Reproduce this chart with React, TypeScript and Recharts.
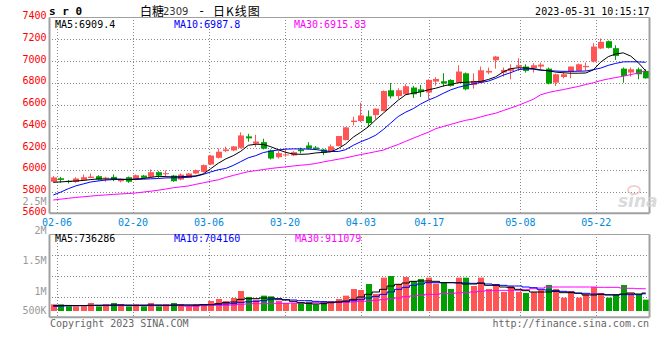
import React from 'react';
import { ComposedChart, Bar, Line, XAxis, YAxis, ReferenceLine } from 'recharts';

// 80 trading days, 02-03 .. 05-31
const DATES = [
  '02-03', '02-06', '02-07', '02-08', '02-09', '02-10', '02-13', '02-14', '02-15', '02-16', '02-17',
  '02-20', '02-21', '02-22', '02-23', '02-24', '02-27', '02-28', '03-01', '03-02', '03-03',
  '03-06', '03-07', '03-08', '03-09', '03-10', '03-13', '03-14', '03-15', '03-16', '03-17',
  '03-20', '03-21', '03-22', '03-23', '03-24', '03-27', '03-28', '03-29', '03-30', '03-31',
  '04-03', '04-04', '04-06', '04-07', '04-10', '04-11', '04-12', '04-13', '04-14',
  '04-17', '04-18', '04-19', '04-20', '04-21', '04-24', '04-25', '04-26', '04-27', '04-28',
  '05-04', '05-05', '05-08', '05-09', '05-10', '05-11', '05-12', '05-15', '05-16', '05-17', '05-18', '05-19',
  '05-22', '05-23', '05-24', '05-25', '05-26', '05-29', '05-30', '05-31',
];

const OPEN = [
  5890, 5922, 5898, 5888, 5907, 5925, 5941, 5922, 5935, 5895,
  5932, 5910, 5947, 5935, 5978, 5960, 5947, 5910, 5926, 5966,
  5981, 6049, 6110, 6172, 6178, 6202, 6307, 6240, 6254, 6178,
  6116, 6132, 6132, 6187, 6224, 6205, 6187, 6171, 6218, 6273,
  6439, 6448, 6491, 6503, 6540, 6731, 6678, 6694, 6756, 6740,
  6710, 6811, 6814, 6826, 6801, 6887, 6780, 6801, 6894, 7007,
  6894, 6909, 6946, 6949, 6934, 6949, 6930, 6801, 6853, 6900,
  6909, 6943, 6995, 7115, 7182, 7118, 6930, 6894, 6924, 6909,
];
const HIGH = [
  5942, 5935, 5907, 5932, 5957, 5966, 5950, 5935, 5957, 5920,
  5938, 5957, 5953, 6003, 5987, 5994, 5953, 5966, 5969, 6003,
  6049, 6135, 6196, 6212, 6218, 6344, 6331, 6322, 6286, 6187,
  6171, 6199, 6171, 6203, 6254, 6218, 6193, 6233, 6312, 6392,
  6488, 6617, 6546, 6565, 6730, 6798, 6749, 6786, 6771, 6780,
  6832, 6851, 6888, 6832, 6961, 6894, 6887, 6949, 6940, 7047,
  6940, 6970, 7026, 6970, 6980, 6986, 6940, 6884, 6909, 6949,
  6976, 6986, 7164, 7207, 7188, 7145, 6940, 6940, 6940, 6924,
];
const LOW = [
  5885, 5880, 5875, 5880, 5900, 5922, 5900, 5890, 5895, 5885,
  5880, 5904, 5920, 5929, 5926, 5932, 5889, 5904, 5923, 5960,
  5975, 6043, 6104, 6162, 6172, 6196, 6258, 6210, 6187, 6095,
  6104, 6120, 6125, 6150, 6187, 6181, 6135, 6166, 6215, 6270,
  6408, 6439, 6393, 6464, 6537, 6657, 6651, 6688, 6660, 6669,
  6648, 6774, 6765, 6765, 6795, 6731, 6746, 6795, 6878, 6930,
  6857, 6832, 6909, 6894, 6894, 6924, 6786, 6771, 6841, 6841,
  6903, 6909, 6986, 7109, 7115, 7010, 6801, 6857, 6832, 6838,
];
const CLOSE = [
  5930, 5907, 5888, 5920, 5932, 5937, 5910, 5928, 5910, 5913,
  5890, 5950, 5926, 5978, 5947, 5969, 5895, 5956, 5966, 5996,
  6043, 6131, 6166, 6187, 6215, 6316, 6289, 6260, 6194, 6104,
  6153, 6141, 6162, 6171, 6194, 6190, 6157, 6215, 6310, 6390,
  6452, 6500, 6429, 6562, 6724, 6675, 6731, 6768, 6694, 6715,
  6826, 6835, 6793, 6771, 6903, 6740, 6817, 6915, 6909, 7041,
  6918, 6934, 6961, 6909, 6961, 6967, 6792, 6878, 6878, 6949,
  6970, 6955, 7133, 7176, 7121, 7047, 6863, 6924, 6878, 6841,
];

const MA5 = [
  5885, 5889, 5893, 5897, 5902, 5910, 5916, 5915, 5916, 5914,
  5911, 5915, 5920, 5930, 5940, 5937, 5935, 5936, 5940, 5944,
  5962, 6010, 6060, 6100, 6130, 6170, 6225, 6235, 6233, 6212,
  6185, 6160, 6145, 6142, 6145, 6155, 6160, 6165, 6195, 6238,
  6300, 6345, 6395, 6460, 6520, 6580, 6640, 6690, 6705, 6716,
  6735, 6750, 6770, 6785, 6800, 6805, 6808, 6812, 6830, 6855,
  6900, 6930, 6938, 6936, 6930, 6918, 6910, 6898, 6892, 6888,
  6888, 6890, 6918, 6990, 7040, 7065, 7075, 7045, 6985, 6909,
];
const MA10 = [
  5768, 5795, 5826, 5852, 5870, 5888, 5897, 5906, 5910, 5911,
  5911, 5911, 5914, 5917, 5920, 5925, 5926, 5927, 5932, 5940,
  5958, 5980, 6000, 6012, 6040, 6075, 6110, 6130, 6158, 6172,
  6182, 6190, 6192, 6192, 6190, 6186, 6176, 6168, 6168, 6185,
  6225, 6258, 6285, 6318, 6370, 6430, 6490, 6530, 6562, 6605,
  6640, 6668, 6703, 6735, 6758, 6775, 6790, 6803, 6815, 6840,
  6870, 6893, 6920, 6928, 6925, 6915, 6912, 6908, 6905, 6905,
  6906, 6908, 6920, 6935, 6960, 6978, 6992, 6993, 6992, 6988,
];
const MA30 = [
  5722, 5730, 5738, 5746, 5752, 5758, 5764, 5769, 5774, 5778,
  5782, 5787, 5795, 5803, 5812, 5823, 5835, 5843, 5851, 5866,
  5880, 5895, 5908, 5930, 5948, 5966, 5983, 5992, 6002, 6012,
  6020, 6027, 6035, 6042, 6048, 6058, 6072, 6085, 6097, 6110,
  6125, 6140, 6153, 6167, 6181, 6208, 6233, 6262, 6290, 6318,
  6345, 6378, 6398, 6417, 6437, 6455, 6467, 6486, 6505, 6520,
  6545, 6568, 6592, 6620, 6648, 6690, 6710, 6725, 6737, 6752,
  6766, 6784, 6800, 6820, 6835, 6848, 6860, 6875, 6890, 6912,
];

const VOL = [
  273100, 268400, 191200, 188700, 193500, 328900, 190400, 271800, 326500, 276200,
  189300, 272400, 192800, 330100, 190600, 274700, 327300, 270900, 193900, 275300,
  271100, 410600, 492300, 408900, 533400, 820700, 574200, 465300, 629100, 601500,
  410200, 328400, 327600, 329800, 383100, 273900, 396400, 410800, 492500, 629600,
  902300, 861400, 1107200, 697500, 1367100, 1435300, 1107900, 1394200, 1230600, 1312400,
  1367800, 1121300, 1148700, 902100, 1367400, 1366200, 1025300, 1367900, 902600, 1107400,
  779300, 1025800, 779900, 738200, 779100, 861700, 1066400, 902900, 547200, 820300,
  547800, 697100, 984600, 738500, 547300, 656400, 1066100, 738900, 656200, 465700,
];
const VMA5 = [
  225000, 230000, 228000, 222000, 218000, 230000, 235000, 240000, 245000, 250000,
  240000, 232000, 238000, 245000, 242000, 236000, 240000, 250000, 246000, 240000,
  262000, 260000, 300000, 342000, 369000, 478000, 506000, 506000, 533000, 533000,
  506000, 451000, 396000, 342000, 315000, 287000, 300000, 342000, 369000, 410000,
  478000, 574000, 683000, 779000, 888000, 1025000, 1093000, 1148000, 1216000, 1230000,
  1230000, 1216000, 1162000, 1162000, 1148000, 1107000, 1107000, 1148000, 1052000, 1052000,
  984000, 957000, 888000, 834000, 779000, 779000, 779000, 806000, 752000, 752000,
  724000, 656000, 656000, 683000, 656000, 656000, 697000, 738000, 697000, 736286,
];
const VMA10 = [
  191000, 200000, 210000, 218000, 225000, 230000, 232000, 232000, 234000, 236000,
  236000, 238000, 236000, 238000, 240000, 238000, 240000, 242000, 240000, 245000,
  250000, 260000, 273000, 287000, 300000, 355000, 375000, 396000, 424000, 465000,
  465000, 465000, 451000, 424000, 424000, 396000, 383000, 369000, 369000, 383000,
  424000, 465000, 533000, 601000, 683000, 779000, 888000, 970000, 1052000, 1107000,
  1162000, 1162000, 1162000, 1162000, 1162000, 1148000, 1134000, 1134000, 1107000, 1080000,
  1052000, 1025000, 1025000, 984000, 957000, 888000, 861000, 834000, 806000, 779000,
  738000, 724000, 697000, 697000, 670000, 670000, 670000, 670000, 670000, 704160,
];
const VMA30 = [
  230000, 228000, 226000, 225000, 224000, 222000, 222000, 220000, 220000, 220000,
  220000, 218000, 218000, 218000, 218000, 219000, 220000, 220000, 195000, 195000,
  220000, 232000, 232000, 232000, 246000, 273000, 287000, 300000, 300000, 300000,
  315000, 315000, 328000, 328000, 328000, 342000, 342000, 342000, 355000, 355000,
  369000, 396000, 396000, 437000, 465000, 506000, 533000, 588000, 615000, 642000,
  683000, 683000, 711000, 711000, 738000, 752000, 779000, 806000, 834000, 834000,
  847000, 847000, 847000, 875000, 915000, 943000, 984000, 984000, 984000, 984000,
  984000, 984000, 984000, 970000, 970000, 970000, 943000, 930000, 915000, 911079,
];

const PRICE_TICKS = [5600, 5800, 6000, 6200, 6400, 6600, 6800, 7000, 7200, 7400];
const DATE_TICKS = ['02-06', '02-20', '03-06', '03-20', '04-03', '04-17', '05-08', '05-22'];
const VOL_LABELS = ['2.5M', '2M', '1.5M', '1M', '500K'];
const VOL_DOMAIN = [-258000, 3136000];

const rows = DATES.map((d, i) => ({
  i, d,
  o: OPEN[i], h: HIGH[i], l: LOW[i], c: CLOSE[i],
  ma5: MA5[i], ma10: MA10[i], ma30: MA30[i],
  v: VOL[i], vma5: VMA5[i], vma10: VMA10[i], vma30: VMA30[i],
}));
const GRID_IDX = DATE_TICKS.map((t) => DATES.indexOf(t));
const LAST = DATES.length - 1;

// plot frames (shared by the charts' margins and the dotted grid)
const PLOT_L = 49.5;
const PLOT_W = 600;
const MAIN_T = 17.5;
const MAIN_B = 213.3;
const VOL_T = 234.5;
const VOL_B = 317.3;

const MONO = '"DejaVu Sans Mono", monospace';
const RED = '#ff5555';
const GREEN = '#00a000';
const BORDER = '#a0a0a0';
const DOT = '#888';

function Candle(props: any) {
  const { x, y, width, height, payload } = props;
  const { o, h, l, c } = payload;
  const color = c >= o ? RED : GREEN;
  const top = Math.min(y, y + height);
  const hh = Math.abs(height);
  const k = hh / (h - l || 1);
  const left = Math.round(x + width / 2 - 3);
  const bTop = top + (h - Math.max(o, c)) * k;
  const bBot = top + (h - Math.min(o, c)) * k;
  return (
    <g>
      <line x1={left + 2.5} x2={left + 2.5} y1={top} y2={top + hh} stroke={color} strokeWidth={1} />
      <rect x={left} y={bTop} width={6} height={Math.max(1, bBot - bTop)} fill={color} />
    </g>
  );
}

function VolBar(props: any) {
  const { x, y, width, height, payload } = props;
  const left = Math.round(x + width / 2 - 3);
  return <rect x={left} y={y} width={6} height={Math.max(0, height)} fill={payload.c >= payload.o ? RED : GREEN} />;
}

const PriceTick = (p: any) => (
  <text x={p.x} y={p.y + 1.5} textAnchor="end" fill="#f00" fontSize={10} fontFamily={MONO}>
    {p.payload.value}
  </text>
);

const DateTick = (p: any) => (
  <text x={p.x} y={225.5} textAnchor="middle" fill="#0088dd" fontSize={10} fontFamily={MONO}>
    {DATES[p.payload.value]}
  </text>
);

// dotted grid made of single-pixel dots, one every 3px
function DottedGrid() {
  const vx = GRID_IDX.map((i) => Math.round(PLOT_L + (PLOT_W * i) / LAST));
  const mainY = PRICE_TICKS.slice(1, -1).map((v) =>
    Math.round(MAIN_T + ((7400 - v) / 1800) * (MAIN_B - MAIN_T)));
  const volY = [1, 2, 3].map((k) => Math.round(VOL_T + ((VOL_B - VOL_T) * k) / 4));
  const dots: React.ReactNode[] = [];
  const vRun = (x: number, y0: number, y1: number) => {
    for (let y = Math.round(y0) + 2; y < y1 - 1; y += 3) dots.push(<rect key={`v${x}-${y}`} x={x} y={y} width={1} height={1} />);
  };
  vx.forEach((x) => { vRun(x, MAIN_T, MAIN_B); vRun(x, VOL_T, VOL_B); });
  [...mainY, ...volY].forEach((y) => {
    for (let x = Math.round(PLOT_L) + 2; x < PLOT_L + PLOT_W - 1; x += 3) dots.push(<rect key={`h${x}-${y}`} x={x} y={y} width={1} height={1} />);
  });
  return (
    <svg width={660} height={360} style={{ position: 'absolute', top: 0, left: 0, pointerEvents: 'none' }}>
      <g fill={DOT} shapeRendering="crispEdges">{dots}</g>
    </svg>
  );
}

export default function App() {
  const abs: React.CSSProperties = { position: 'absolute', top: 0, left: 0 };
  return (
    <div style={{ position: 'relative', width: 660, height: 360, background: '#fff', overflow: 'hidden' }}>
      <style>{'body{margin:0}'}</style>

      <DottedGrid />

      <div style={abs}>
        <ComposedChart width={660} height={240} data={rows} margin={{ top: MAIN_T, right: 660 - PLOT_L - PLOT_W, bottom: 0, left: 0 }}>
          <XAxis xAxisId="c" dataKey="d" hide />
          <XAxis
            xAxisId="g" dataKey="i" type="number" domain={[0, LAST]} ticks={GRID_IDX} interval={0}
            height={240 - MAIN_B} tickSize={0} tickMargin={0} tickLine={false} axisLine={false}
            tick={<DateTick />} allowDataOverflow
          />
          <YAxis
            domain={[5600, 7400]} ticks={PRICE_TICKS} interval={0} width={PLOT_L}
            tickSize={0} tickMargin={3} tickLine={false} axisLine={false}
            tick={<PriceTick />} allowDataOverflow
          />
          <ReferenceLine xAxisId="g" y={7400} stroke={BORDER} strokeWidth={1} />
          <ReferenceLine xAxisId="g" y={5600} stroke={BORDER} strokeWidth={2} />
          <ReferenceLine xAxisId="g" x={0} stroke={BORDER} strokeWidth={2} />
          <ReferenceLine xAxisId="g" x={LAST} stroke={BORDER} strokeWidth={2} />
          <Bar xAxisId="c" dataKey={(r: any) => [r.l, r.h]} barSize={6} shape={(p: any) => <Candle {...p} />} isAnimationActive={false} />
          <Line xAxisId="c" dataKey="ma30" stroke="#ff00ff" strokeWidth={1} dot={false} activeDot={false} isAnimationActive={false} />
          <Line xAxisId="c" dataKey="ma10" stroke="#0000ff" strokeWidth={1} dot={false} activeDot={false} isAnimationActive={false} />
          <Line xAxisId="c" dataKey="ma5" stroke="#000" strokeWidth={1} dot={false} activeDot={false} isAnimationActive={false} />
        </ComposedChart>
      </div>

      <div style={abs}>
        <ComposedChart width={660} height={360} data={rows} margin={{ top: VOL_T, right: 660 - PLOT_L - PLOT_W, bottom: 360 - VOL_B, left: PLOT_L }}>
          <XAxis xAxisId="c" dataKey="d" hide />
          <XAxis xAxisId="g" dataKey="i" type="number" domain={[0, LAST]} hide allowDataOverflow />
          <YAxis domain={VOL_DOMAIN} hide allowDataOverflow />
          <ReferenceLine xAxisId="g" y={VOL_DOMAIN[1]} stroke={BORDER} strokeWidth={1} />
          <ReferenceLine xAxisId="g" y={VOL_DOMAIN[0]} stroke={BORDER} strokeWidth={2} />
          <ReferenceLine xAxisId="g" x={0} stroke={BORDER} strokeWidth={2} />
          <ReferenceLine xAxisId="g" x={LAST} stroke={BORDER} strokeWidth={2} />
          <Bar xAxisId="c" dataKey="v" barSize={6} shape={(p: any) => <VolBar {...p} />} isAnimationActive={false} />
          <Line xAxisId="c" type="step" dataKey="vma30" stroke="#ff00ff" strokeWidth={1} dot={false} activeDot={false} isAnimationActive={false} />
          <Line xAxisId="c" type="step" dataKey="vma10" stroke="#0000ff" strokeWidth={1} dot={false} activeDot={false} isAnimationActive={false} />
          <Line xAxisId="c" type="step" dataKey="vma5" stroke="#000" strokeWidth={1} dot={false} activeDot={false} isAnimationActive={false} />
        </ComposedChart>
      </div>

      <svg width={660} height={360} style={{ ...abs, pointerEvents: 'none' }}>
        <g fontFamily={MONO} fontSize={10}>
          <text x={49} y={15} fontSize={11} fontWeight="bold">s r 0</text>
          <text x={140} y={15.5} fontSize={12} fontFamily='"Noto Sans CJK SC", sans-serif'>白糖</text>
          <text x={163} y={15} fontSize={10} fontFamily='"DejaVu Sans", sans-serif' fill="#333">2309</text>
          <text x={198} y={15} fontSize={12}>-</text>
          <text x={213} y={15.5} fontSize={12} letterSpacing={1} fontFamily='"Noto Sans CJK SC", sans-serif'>日K线图</text>
          <text x={649.5} y={15} textAnchor="end">2023-05-31 10:15:17</text>

          <text x={55} y={27.5} fill="#000">MA5:6909.4</text>
          <text x={174} y={27.5} fill="#0000ff">MA10:6987.8</text>
          <text x={294} y={27.5} fill="#ff00ff">MA30:6915.83</text>

          <text x={55} y={241.7} fill="#000">MA5:736286</text>
          <text x={174} y={241.7} fill="#0000ff">MA10:704160</text>
          <text x={295} y={241.7} fill="#ff00ff">MA30:911079</text>

          {VOL_LABELS.map((t, k) => (
            <text key={t} x={46.5} y={[204.5, 234, 264, 294.5, 313.5][k]} textAnchor="end" fill="#999">{t}</text>
          ))}

          <text x={50} y={327.3} fill="#666">Copyright 2023 SINA.COM</text>
          <text x={649} y={327.3} textAnchor="end" fill="#666">http://finance.sina.com.cn</text>
        </g>
        <g opacity={0.8}>
          <ellipse cx={634} cy={190} rx={6} ry={4} fill="none" stroke="#f2b8b8" strokeWidth={1.5} />
          <text x={618} y={207} fontSize={17} fontStyle="italic" fontWeight="bold" fill="#d2d2d2" fontFamily='"DejaVu Sans", sans-serif'>sina</text>
        </g>
      </svg>
    </div>
  );
}
